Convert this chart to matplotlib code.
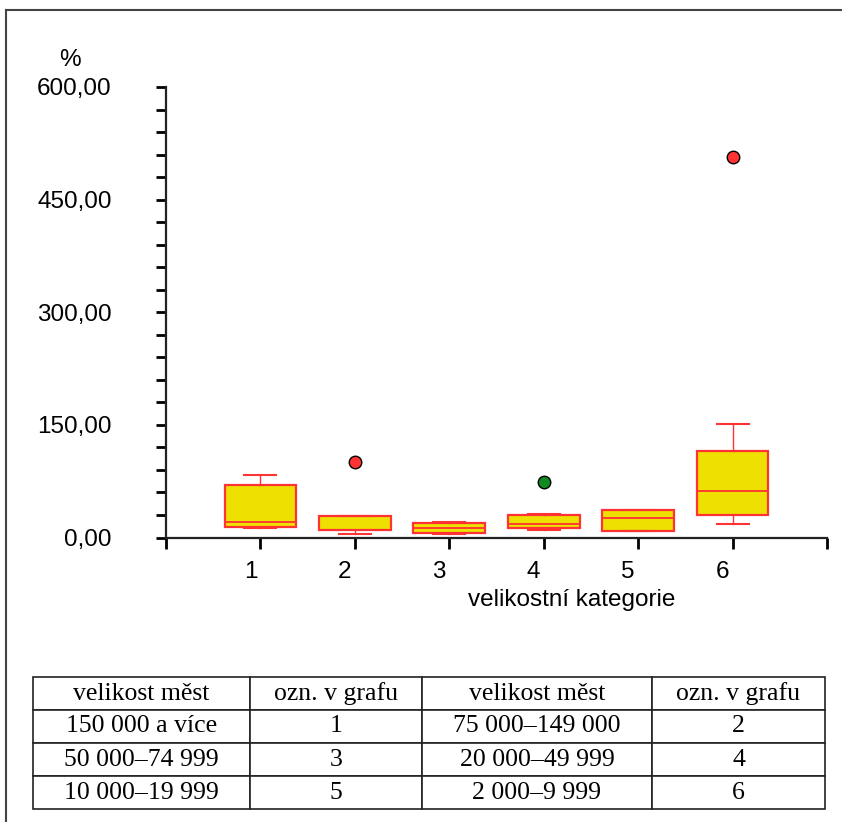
import matplotlib
matplotlib.use("Agg")
import matplotlib.pyplot as plt
import matplotlib.transforms as mtransforms
from matplotlib.lines import Line2D
from matplotlib.ticker import MultipleLocator, FuncFormatter, FixedLocator

# box statistics per size category (values in %)
categories = [1, 2, 3, 4, 5, 6]
q1 = [14.6, 10.6, 5.8, 13.3, 9.3, 29.7]
medians = [21.3, 10.6, 12.9, 17.7, 26.6, 61.6]
q3 = [69.6, 28.4, 19.1, 29.7, 36.4, 114.8]
whisk_lo = [12.0, 4.0, 4.0, 9.8, 9.3, 17.7]
whisk_hi = [82.9, 28.4, 21.3, 31.5, 36.4, 150.8]

# outlying cities
out_cat = [2, 4, 6]
out_val = [100.7, 73.6, 507.0]
out_col = ["#ff3333", "#118a22", "#ff3333"]

# legend table
tab_header = ["velikost měst", "ozn. v grafu", "velikost měst", "ozn. v grafu"]
tab_rows = [
    ["150 000 a více", "1", "75 000–149 000", "2"],
    ["50 000–74 999", "3", "20 000–49 999", "4"],
    ["10 000–19 999", "5", "2 000–9 999", "6"],
]

plt.rcParams["font.family"] = ["Liberation Sans", "DejaVu Sans"]

fig = plt.figure(figsize=(8.42, 8.22), dpi=100)
ax = fig.add_axes([166 / 842, 1 - 537.5 / 822, (827 - 166) / 842, (537.5 - 87) / 822])

red = "#ff3333"
yellow = "#eee000"
stats = []
for i in range(len(categories)):
    stats.append(dict(med=medians[i], q1=q1[i], q3=q3[i],
                      whislo=whisk_lo[i], whishi=whisk_hi[i], fliers=[]))
ax.bxp(stats, positions=categories, widths=0.76, patch_artist=True,
       showfliers=False,
       boxprops=dict(facecolor=yellow, edgecolor=red, linewidth=1.6),
       medianprops=dict(color=red, linewidth=1.3),
       whiskerprops=dict(color=red, linewidth=1.0),
       capprops=dict(color=red, linewidth=1.5),
       capwidths=0.34)

for c, v, col in zip(out_cat, out_val, out_col):
    ax.plot(c, v, marker="o", ms=9, mfc=col, mec="black", mew=1.0,
            linestyle="", zorder=5)

ax.set_xlim(0, 7)
ax.set_ylim(0, 600)
for s in ["top", "right"]:
    ax.spines[s].set_visible(False)
for s in ["left", "bottom"]:
    ax.spines[s].set_linewidth(1.6)
    ax.spines[s].set_color("#222222")

ax.yaxis.set_major_locator(MultipleLocator(150))
ax.yaxis.set_minor_locator(MultipleLocator(30))
ax.yaxis.set_major_formatter(FuncFormatter(lambda v, p: f"{v:.2f}".replace(".", ",")))
ax.tick_params(axis="y", which="both", length=7, width=2, direction="out",
               labelsize=17.5, pad=32)

ax.xaxis.set_major_locator(FixedLocator(categories))
ax.xaxis.set_minor_locator(FixedLocator([0, 7]))
ax.set_xticklabels([str(c) for c in categories])
ax.tick_params(axis="x", which="both", length=8, width=2, direction="out",
               labelsize=17.5, pad=9)
shift = mtransforms.ScaledTranslation(-10 / 100, 0, fig.dpi_scale_trans)
for lab in ax.get_xticklabels():
    lab.set_transform(lab.get_transform() + shift)

ax.set_xlabel("velikostní kategorie", fontsize=17.5, labelpad=4)
ax.xaxis.set_label_coords((572 - 166) / 661, -0.115)
fig.text(70 / 842, 1 - 60 / 822, "%", fontsize=17.5, ha="center", va="center")

# frame lines around the figure
fig.add_artist(Line2D([6 / 842, 1], [1 - 10 / 822, 1 - 10 / 822],
                      transform=fig.transFigure, color="#444444", lw=1.5))
fig.add_artist(Line2D([6 / 842, 6 / 842], [0, 1 - 10 / 822],
                      transform=fig.transFigure, color="#444444", lw=1.5))

# legend table under the chart
tax = fig.add_axes([33 / 842, 1 - 809 / 822, (825 - 33) / 842, (809 - 677) / 822])
tax.axis("off")
col_w = [217, 172, 230, 173]
col_w = [w / sum(col_w) for w in col_w]
tbl = tax.table(cellText=tab_rows, colLabels=tab_header, colWidths=col_w,
                cellLoc="center", bbox=[0, 0, 1, 1])
tbl.auto_set_font_size(False)
for (r, c), cell in tbl.get_celld().items():
    cell.set_linewidth(1.2)
    cell.set_edgecolor("#222222")
    cell.get_text().set_fontsize(18.5)
    cell.get_text().set_fontfamily(["Liberation Serif", "DejaVu Serif"])

fig.savefig("out.png", dpi=100)
